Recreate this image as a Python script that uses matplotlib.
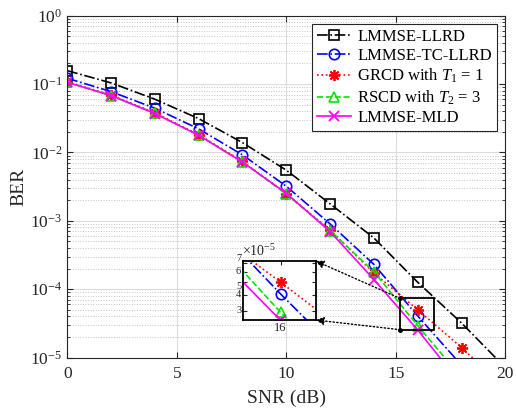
import matplotlib
matplotlib.use("Agg")
import matplotlib.pyplot as plt
from matplotlib.patches import ConnectionPatch
from matplotlib.ticker import NullLocator, FixedLocator, FixedFormatter

plt.rcParams['font.family'] = ['Liberation Serif', 'DejaVu Serif']
plt.rcParams['mathtext.fontset'] = 'custom'
plt.rcParams['mathtext.rm'] = 'Liberation Serif'
plt.rcParams['mathtext.it'] = 'Liberation Serif:italic'
plt.rcParams['mathtext.bf'] = 'Liberation Serif:bold'

# ---- data ----
snr = [0, 2, 4, 6, 8, 10, 12, 14, 16, 18, 20]
ber_llrd = [0.157, 0.104, 0.060, 0.0312, 0.0139, 0.0055, 0.00177, 5.6e-4, 1.26e-4, 3.2e-5, 7.1e-6]
ber_tcllrd = [0.1216, 0.0775, 0.0443, 0.0221, 0.0092, 0.0032, 9.0e-4, 2.3e-4, 4.05e-5, 7.7e-6]
ber_grcd = [0.108, 0.069, 0.038, 0.0182, 0.0074, 0.0025, 7.3e-4, 1.72e-4, 5.0e-5, 1.4e-5, 3.5e-6]
ber_rscd = [0.107, 0.0676, 0.0374, 0.0180, 0.0073, 0.00245, 7.2e-4, 1.8e-4, 2.92e-5, 5.1e-6]
ber_mld = [0.106, 0.068, 0.037, 0.0178, 0.0072, 0.00253, 6.95e-4, 1.38e-4, 2.53e-5, 4.0e-6]

labels = ['LMMSE-LLRD', 'LMMSE-TC-LLRD', r'GRCD with $T_1$ = 1',
          r'RSCD with $T_2$ = 3', 'LMMSE-MLD']
xticks = [0, 5, 10, 15, 20]
inset_yticks = [3e-5, 4e-5, 5e-5, 6e-5, 7e-5]
inset_yticklabels = ['3', '4', '5', '6', '7']
inset_xlim = (15.2, 16.75)
inset_ylim = (2.55e-5, 7.3e-5)

series = [ber_llrd, ber_tcllrd, ber_grcd, ber_rscd, ber_mld]
styles = [
    dict(color='k', linestyle='-.', marker='s', markersize=6.5, mfc='none', mew=1.2),
    dict(color='#0000FF', linestyle='-.', marker='o', markersize=7.5, mfc='none', mew=1.2),
    dict(color='#FF0000', linestyle=':', marker=(8, 2, 0), markersize=8, mew=1.3),
    dict(color='#00E600', linestyle='--', marker='^', markersize=7.5, mfc='none', mew=1.2),
    dict(color='#FF00FF', linestyle='-', marker='x', markersize=6.5, mew=1.3),
]

fig = plt.figure(figsize=(5.16, 4.09), dpi=100)
ax = fig.add_axes([0.1304, 0.1259, 0.9793 - 0.1304, 0.9616 - 0.1259])

for y, st, lab in zip(series, styles, labels):
    ax.plot(snr[:len(y)], y, lw=1.2, label=lab, **st)

ax.set_yscale('log')
ax.set_xlim(0, 20)
ax.set_ylim(1e-5, 1)
ax.set_xticks(xticks)
ax.xaxis.set_minor_locator(NullLocator())
ax.grid(which='major', color='#dcdcdc', linestyle='-', linewidth=0.8)
ax.grid(which='minor', axis='y', color='#c4c4c4', linestyle=':', linewidth=0.7)
ax.tick_params(which='both', direction='in', top=True, right=True, labelsize=12.5,
               colors='#262626')
ax.tick_params(axis='x', pad=6)
ax.tick_params(which='major', length=4)
ax.tick_params(which='minor', length=2)
for s in ax.spines.values():
    s.set_color('#262626')
    s.set_linewidth(0.8)
ax.set_xlabel('SNR (dB)', fontsize=14, color='#262626', labelpad=6)
ax.set_ylabel('BER', fontsize=14, color='#262626', labelpad=2)

leg = ax.legend(loc='upper right', fontsize=12, frameon=True, fancybox=False,
                edgecolor='#262626', framealpha=1, handlelength=2.0,
                handletextpad=0.4, labelspacing=0.18, borderpad=0.3,
                borderaxespad=0.5)
leg.get_frame().set_linewidth(0.8)

# zoom rectangle on main axes
x0, x1 = inset_xlim
y0, y1 = inset_ylim
ax.plot([x0, x1, x1, x0, x0], [y0, y0, y1, y1, y0], color='k', lw=1.3, zorder=5)
ax.plot([x0, x0], [y0, y1], linestyle='none', marker='o', markersize=2.5, color='k', zorder=6)

# inset
ax_in = fig.add_axes([0.4715, 0.2176, 0.1403, 0.1443])
for y, st in zip(series, styles):
    ax_in.plot(snr[:len(y)], y, lw=1.2, **st)
ax_in.set_yscale('log')
ax_in.set_xlim(*inset_xlim)
ax_in.set_ylim(*inset_ylim)
ax_in.yaxis.set_major_locator(FixedLocator(inset_yticks))
ax_in.yaxis.set_major_formatter(FixedFormatter(inset_yticklabels))
ax_in.yaxis.set_minor_locator(NullLocator())
ax_in.set_xticks([16])
ax_in.set_xticklabels(['16'])
ax_in.xaxis.set_minor_locator(NullLocator())
ax_in.tick_params(which='both', direction='in', colors='#262626',
                  length=3, pad=1.5, top=True, right=True)
ax_in.tick_params(axis='x', labelsize=9)
ax_in.tick_params(axis='y', labelsize=7.5)
for s in ax_in.spines.values():
    s.set_color('k')
    s.set_linewidth(1.3)
ax_in.text(-0.02, 1.03, r'$\times10^{-5}$', transform=ax_in.transAxes, fontsize=10,
           color='#262626', ha='left', va='bottom')

fig.canvas.draw()
va_map = {'7': 'bottom', '6': 'center', '5': 'top', '4': 'center', '3': 'center'}
for t in ax_in.get_yticklabels():
    t.set_va(va_map.get(t.get_text(), 'center'))

for (ya, yb) in [(y1, 1), (y0, 0)]:
    cp = ConnectionPatch(xyA=(x0, ya), coordsA=ax.transData,
                         xyB=(1, yb), coordsB=ax_in.transAxes,
                         arrowstyle='-|>', linestyle=':', color='k', lw=1.0,
                         mutation_scale=12, shrinkA=0, shrinkB=0)
    fig.add_artist(cp)

fig.savefig('out.png', dpi=100)
